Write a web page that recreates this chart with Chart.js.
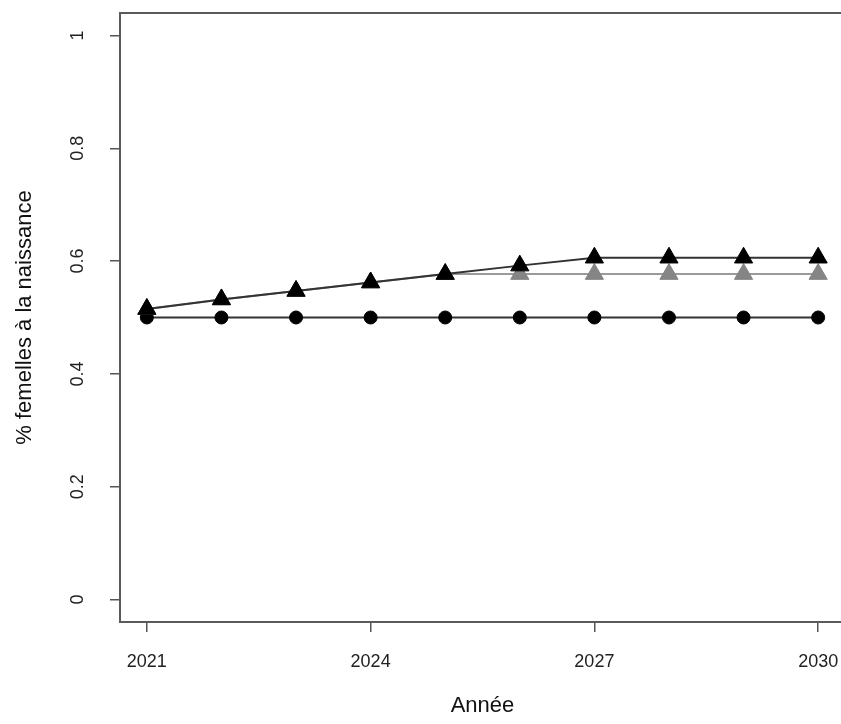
<!DOCTYPE html>
<html>
<head>
<meta charset="utf-8">
<script src="https://cdn.jsdelivr.net/npm/chart.js@4"></script>
<style>
  html, body { margin: 0; padding: 0; background: #fff; overflow: hidden; }
  #wrap { width: 846px; height: 724px; }
</style>
</head>
<body>
<div id="wrap"><canvas id="sexRatioChart" width="846" height="724"></canvas></div>
<script>
// Data
const years = [2021, 2022, 2023, 2024, 2025, 2026, 2027, 2028, 2029, 2030];
const circleSeries = [0.5, 0.5, 0.5, 0.5, 0.5, 0.5, 0.5, 0.5, 0.5, 0.5];
const blackTriangleSeries = [0.515, 0.532, 0.547, 0.562, 0.577, 0.592, 0.606, 0.606, 0.606, 0.606];
const greyTriangleSeries = [0.515, 0.532, 0.547, 0.562, 0.577, 0.577, 0.577, 0.577, 0.577, 0.577];
const xTickValues = [2021, 2024, 2027, 2030];
const yTickValues = [0, 0.2, 0.4, 0.6, 0.8, 1];
const yTickLabels = ['0', '0.2', '0.4', '0.6', '0.8', '1'];

function toPoints(values) {
    return years.map((yr, i) => ({ x: yr, y: values[i] }));
}

// Box around the plot region, R style
const boxPlugin = {
    id: 'box',
    afterDraw(chart) {
        const { ctx, chartArea } = chart;
        ctx.save();
        ctx.strokeStyle = '#5a5a5a';
        ctx.lineWidth = 2;
        ctx.strokeRect(chartArea.left, chartArea.top,
            chartArea.right - chartArea.left, chartArea.bottom - chartArea.top);
        ctx.restore();
    }
};

const ctx = document.getElementById('sexRatioChart').getContext('2d');
new Chart(ctx, {
    type: 'line',
    data: {
        datasets: [
            {
                data: toPoints(blackTriangleSeries),
                borderColor: '#333333',
                borderWidth: 2,
                pointStyle: 'triangle',
                pointRadius: 10.5,
                pointBackgroundColor: '#000000',
                pointBorderColor: '#000000',
                pointBorderWidth: 1
            },
            {
                data: toPoints(greyTriangleSeries),
                borderColor: '#9a9a9a',
                borderWidth: 2,
                pointStyle: 'triangle',
                pointRadius: 10.5,
                pointBackgroundColor: '#858585',
                pointBorderColor: '#858585',
                pointBorderWidth: 1
            },
            {
                data: toPoints(circleSeries),
                borderColor: '#333333',
                borderWidth: 2,
                pointStyle: 'circle',
                pointRadius: 6.5,
                pointBackgroundColor: '#000000',
                pointBorderColor: '#000000',
                pointBorderWidth: 1
            }
        ]
    },
    options: {
        responsive: false,
        animation: false,
        layout: { autoPadding: false, padding: { top: 13, left: 0, right: 1, bottom: 0 } },
        plugins: {
            legend: { display: false },
            tooltip: { enabled: false }
        },
        scales: {
            x: {
                type: 'linear',
                min: 2020.64,
                max: 2030.36,
                afterBuildTicks: scale => {
                    scale.ticks = xTickValues.map(v => ({ value: v }));
                },
                afterFit: scale => {
                    scale.height = 102;
                    scale.paddingLeft = 0;
                    scale.paddingRight = 0;
                },
                border: { display: false },
                grid: { drawOnChartArea: false, tickLength: 10, color: '#555555', lineWidth: 1.5 },
                ticks: {
                    padding: 19,
                    color: '#222222',
                    font: { family: 'Liberation Sans, Arial, sans-serif', size: 18 },
                    callback: v => String(v)
                },
                title: {
                    display: true,
                    text: 'Année',
                    color: '#111111',
                    font: { family: 'Liberation Sans, Arial, sans-serif', size: 22 },
                    padding: { top: 0, bottom: 5 }
                }
            },
            y: {
                type: 'linear',
                min: -0.04,
                max: 1.04,
                afterBuildTicks: scale => {
                    scale.ticks = yTickValues.map(v => ({ value: v }));
                },
                afterFit: scale => {
                    scale.width = 120;
                    scale.paddingTop = 0;
                    scale.paddingBottom = 0;
                },
                border: { display: false },
                grid: { drawOnChartArea: false, tickLength: 10, color: '#555555', lineWidth: 1.5 },
                ticks: {
                    minRotation: 90,
                    maxRotation: 90,
                    crossAlign: 'center',
                    padding: 19,
                    color: '#222222',
                    font: { family: 'Liberation Sans, Arial, sans-serif', size: 18 },
                    callback: v => yTickLabels[yTickValues.indexOf(v)]
                },
                title: {
                    display: true,
                    text: '% femelles à la naissance',
                    color: '#111111',
                    font: { family: 'Liberation Sans, Arial, sans-serif', size: 22 },
                    padding: { top: 12, bottom: 0 }
                }
            }
        }
    },
    plugins: [boxPlugin]
});
</script>
</body>
</html>
